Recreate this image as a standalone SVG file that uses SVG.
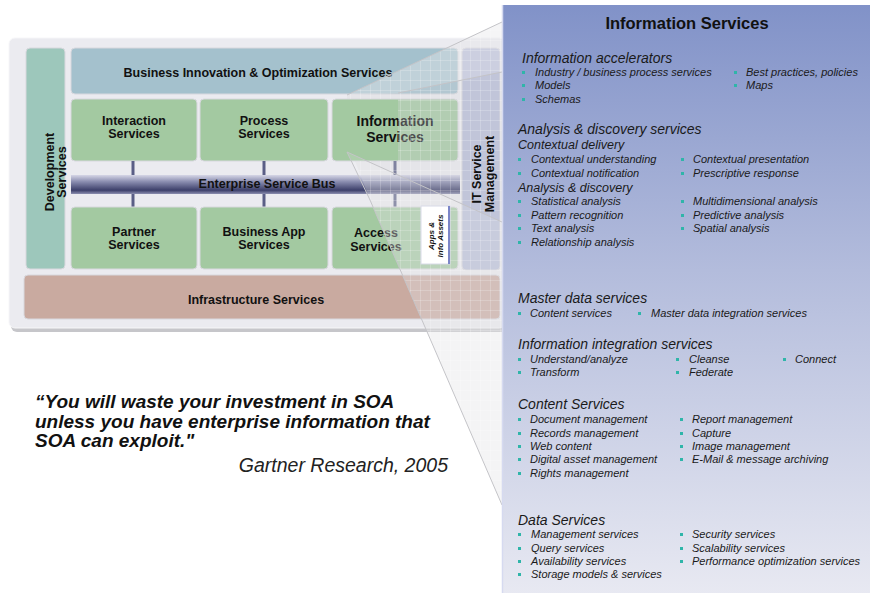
<svg xmlns="http://www.w3.org/2000/svg" width="870" height="593" viewBox="0 0 870 593">
<defs>
<style>
.lbl{font-family:"Liberation Sans",Arial,sans-serif;font-weight:bold;font-size:12.5px;fill:#111;text-anchor:middle}
.h{font-family:"Liberation Sans",Arial,sans-serif;font-style:italic;font-size:14px;fill:#1a1a1a}
.sh{font-family:"Liberation Sans",Arial,sans-serif;font-style:italic;font-size:12.5px;fill:#1a1a1a}
.it{font-family:"Liberation Sans",Arial,sans-serif;font-style:italic;font-size:11px;fill:#1a1a1a}
.b{fill:#2fb5a9}
.box{stroke:#d8d8de;stroke-width:1}
</style>
<linearGradient id="panel" x1="0" y1="0" x2="0" y2="1">
<stop offset="0" stop-color="#8192c8"/>
<stop offset="0.45" stop-color="#b3bcdc"/>
<stop offset="1" stop-color="#e8e9f2"/>
</linearGradient>
<linearGradient id="esb" x1="0" y1="0" x2="0" y2="1">
<stop offset="0" stop-color="#d6d6e6"/>
<stop offset="0.35" stop-color="#8a8db0"/>
<stop offset="0.8" stop-color="#3c3f6a"/>
<stop offset="1" stop-color="#8c8fb0"/>
</linearGradient>
<pattern id="grid" width="10" height="10" patternUnits="userSpaceOnUse">
<path d="M10,0 L0,0 0,10" fill="none" stroke="#ffffff" stroke-opacity="0.4" stroke-width="1"/>
</pattern>
</defs>

<!-- left architecture panel -->
<g id="soa-panel">
<rect x="11" y="41" width="496" height="291" rx="6" fill="#c6c6ca"/>
<rect x="9" y="38" width="496" height="290" rx="6" fill="#ebebf0" stroke="#f6f6f8"/>
</g>
<g id="development-services">
<rect class="box" x="26" y="48" width="39" height="221" rx="4" fill="#9dc7bb"/>
<text class="lbl" transform="translate(45,172) rotate(-90)"><tspan x="0" y="9">Development</tspan><tspan x="0" y="21">Services</tspan></text>
</g>
<g id="business-innovation">
<rect class="box" x="71" y="48" width="387" height="46" rx="4" fill="#a4c1cd"/>
<text class="lbl" x="258" y="77">Business Innovation &amp; Optimization Services</text>
</g>
<g id="interaction-services">
<rect class="box" x="71" y="99" width="126" height="62" rx="4" fill="#a3c9a1"/>
<text class="lbl" x="134" y="125">Interaction<tspan x="134" y="138">Services</tspan></text>
</g>
<g id="process-services">
<rect class="box" x="200" y="99" width="128" height="62" rx="4" fill="#a3c9a1"/>
<text class="lbl" x="264" y="125">Process<tspan x="264" y="138">Services</tspan></text>
</g>
<g id="information-services">
<rect class="box" x="332" y="99" width="126" height="62" rx="4" fill="#a3c9a1"/>
<text class="lbl" style="font-size:14px" x="395" y="126">Information<tspan x="395" y="142">Services</tspan></text>
</g>

<g id="connectors" stroke="#5a5e86" stroke-width="3">
<line x1="133" y1="161" x2="133" y2="207"/>
<line x1="264" y1="161" x2="264" y2="207"/>
<line x1="395" y1="161" x2="395" y2="207"/>
</g>

<g id="enterprise-service-bus">
<rect x="71" y="175" width="389" height="19" fill="url(#esb)"/>
<text class="lbl" x="267" y="188">Enterprise Service Bus</text>
</g>
<g id="partner-services">
<rect class="box" x="71" y="207" width="126" height="62" rx="4" fill="#a3c9a1"/>
<text class="lbl" x="134" y="236">Partner<tspan x="134" y="249">Services</tspan></text>
</g>
<g id="business-app-services">
<rect class="box" x="200" y="207" width="128" height="62" rx="4" fill="#a3c9a1"/>
<text class="lbl" x="264" y="236">Business App<tspan x="264" y="249">Services</tspan></text>
</g>
<g id="access-services">
<rect class="box" x="332" y="207" width="126" height="62" rx="4" fill="#a3c9a1"/>
<text class="lbl" x="376" y="237">Access<tspan x="376" y="251">Services</tspan></text>
</g>
<g id="infrastructure-services">
<rect class="box" x="24" y="275" width="476" height="44" rx="4" fill="#c9aaa0"/>
<text class="lbl" x="256" y="304">Infrastructure Services</text>
</g>
<g id="it-service-management">
<rect class="box" x="462" y="48" width="38" height="222" rx="4" fill="#b8bdd9"/>
</g>

<!-- zoom cone -->
<g id="zoom-cone">
<polygon points="347,95 502,22 502,505 370,200 355,161 398,161 398,99 347,99" fill="#d8d8dc" fill-opacity="0.3"/>
<polygon points="347,95 502,22 502,505 370,200 355,161 398,161 398,99 347,99" fill="url(#grid)"/>
<polygon points="347,95 502,22 502,72 398,93" fill="#ffffff" fill-opacity="0.18"/>
<polygon points="347,152 502,222 502,505 370,200" fill="#ffffff" fill-opacity="0.12"/>
<path d="M347,95 L502,22 M502,505 L370,200 L347,152 L502,222 M398,93 L502,72" fill="none" stroke="#c4c4c8" stroke-width="1"/>
</g>

<g id="it-service-management-label">
<text class="lbl" transform="translate(481,174) rotate(-90)"><tspan x="0" y="0">IT Service</tspan><tspan x="0" y="13">Management</tspan></text>
</g>
<g id="apps-info-assets">
<rect x="421" y="206" width="29" height="58" fill="#ffffff" stroke="#d8dae8"/>
<rect x="448" y="206" width="2" height="58" fill="#7b86c8"/>
<text class="lbl" style="font-size:8px;font-style:italic" transform="translate(436,236) rotate(-90)"><tspan x="0" y="-2">Apps &amp;</tspan><tspan x="0" y="7">Info Assets</tspan></text>
</g>

<!-- detail panel -->
<g id="information-services-detail">
<rect x="502" y="5" width="370" height="590" fill="url(#panel)"/>
<line x1="502.5" y1="5" x2="502.5" y2="593" stroke="#d6daf0" stroke-width="1.5"/>
<text x="687" y="29" style="font-family:'Liberation Sans',Arial,sans-serif;font-weight:bold;font-size:16.5px;fill:#111;text-anchor:middle">Information Services</text>

<text class="h" x="522" y="63">Information accelerators</text>
<rect class="b" x="522" y="71" width="3" height="3"/><text class="it" x="535" y="76">Industry / business process services</text>
<rect class="b" x="522" y="84" width="3" height="3"/><text class="it" x="535" y="89">Models</text>
<rect class="b" x="522" y="98" width="3" height="3"/><text class="it" x="535" y="103">Schemas</text>
<rect class="b" x="734" y="71" width="3" height="3"/><text class="it" x="746" y="76">Best practices, policies</text>
<rect class="b" x="734" y="84" width="3" height="3"/><text class="it" x="746" y="89">Maps</text>

<text class="h" x="518" y="134">Analysis &amp; discovery services</text>
<text class="sh" x="518" y="149">Contextual delivery</text>
<rect class="b" x="518" y="158" width="3" height="3"/><text class="it" x="531" y="163">Contextual understanding</text>
<rect class="b" x="518" y="172" width="3" height="3"/><text class="it" x="531" y="177">Contextual notification</text>
<rect class="b" x="681" y="158" width="3" height="3"/><text class="it" x="693" y="163">Contextual presentation</text>
<rect class="b" x="681" y="172" width="3" height="3"/><text class="it" x="693" y="177">Prescriptive response</text>
<text class="sh" x="518" y="192">Analysis &amp; discovery</text>
<rect class="b" x="518" y="200" width="3" height="3"/><text class="it" x="531" y="205">Statistical analysis</text>
<rect class="b" x="518" y="214" width="3" height="3"/><text class="it" x="531" y="219">Pattern recognition</text>
<rect class="b" x="518" y="227" width="3" height="3"/><text class="it" x="531" y="232">Text analysis</text>
<rect class="b" x="518" y="241" width="3" height="3"/><text class="it" x="531" y="246">Relationship analysis</text>
<rect class="b" x="681" y="200" width="3" height="3"/><text class="it" x="693" y="205">Multidimensional analysis</text>
<rect class="b" x="681" y="214" width="3" height="3"/><text class="it" x="693" y="219">Predictive analysis</text>
<rect class="b" x="681" y="227" width="3" height="3"/><text class="it" x="693" y="232">Spatial analysis</text>

<text class="h" x="518" y="303">Master data services</text>
<rect class="b" x="518" y="312" width="3" height="3"/><text class="it" x="530" y="317">Content services</text>
<rect class="b" x="638" y="312" width="3" height="3"/><text class="it" x="651" y="317">Master data integration services</text>

<text class="h" x="518" y="349">Information integration services</text>
<rect class="b" x="518" y="358" width="3" height="3"/><text class="it" x="530" y="363">Understand/analyze</text>
<rect class="b" x="518" y="371" width="3" height="3"/><text class="it" x="530" y="376">Transform</text>
<rect class="b" x="676" y="358" width="3" height="3"/><text class="it" x="689" y="363">Cleanse</text>
<rect class="b" x="676" y="371" width="3" height="3"/><text class="it" x="689" y="376">Federate</text>
<rect class="b" x="783" y="358" width="3" height="3"/><text class="it" x="795" y="363">Connect</text>

<text class="h" x="518" y="409">Content Services</text>
<rect class="b" x="518" y="418" width="3" height="3"/><text class="it" x="530" y="423">Document management</text>
<rect class="b" x="518" y="432" width="3" height="3"/><text class="it" x="530" y="437">Records management</text>
<rect class="b" x="518" y="445" width="3" height="3"/><text class="it" x="530" y="450">Web content</text>
<rect class="b" x="518" y="458" width="3" height="3"/><text class="it" x="530" y="463">Digital asset management</text>
<rect class="b" x="518" y="472" width="3" height="3"/><text class="it" x="530" y="477">Rights management</text>
<rect class="b" x="680" y="418" width="3" height="3"/><text class="it" x="692" y="423">Report management</text>
<rect class="b" x="680" y="432" width="3" height="3"/><text class="it" x="692" y="437">Capture</text>
<rect class="b" x="680" y="445" width="3" height="3"/><text class="it" x="692" y="450">Image management</text>
<rect class="b" x="680" y="458" width="3" height="3"/><text class="it" x="692" y="463">E-Mail &amp; message archiving</text>

<text class="h" x="518" y="525">Data Services</text>
<rect class="b" x="518" y="533" width="3" height="3"/><text class="it" x="531" y="538">Management services</text>
<rect class="b" x="518" y="547" width="3" height="3"/><text class="it" x="531" y="552">Query services</text>
<rect class="b" x="518" y="560" width="3" height="3"/><text class="it" x="531" y="565">Availability services</text>
<rect class="b" x="518" y="573" width="3" height="3"/><text class="it" x="531" y="578">Storage models &amp; services</text>
<rect class="b" x="680" y="533" width="3" height="3"/><text class="it" x="692" y="538">Security services</text>
<rect class="b" x="680" y="547" width="3" height="3"/><text class="it" x="692" y="552">Scalability services</text>
<rect class="b" x="680" y="560" width="3" height="3"/><text class="it" x="692" y="565">Performance optimization services</text>
</g>

<g id="quote">
<text style="font-family:'Liberation Sans',Arial,sans-serif;font-weight:bold;font-style:italic;font-size:19px;fill:#111"><tspan x="35" y="408">“You will waste your investment in SOA</tspan><tspan x="35" y="428">unless you have enterprise information that</tspan><tspan x="35" y="447">SOA can exploit."</tspan></text>
<text x="448" y="472" style="font-family:'Liberation Sans',Arial,sans-serif;font-style:italic;font-size:19.5px;fill:#222;text-anchor:end">Gartner Research, 2005</text>
</g>
</svg>
